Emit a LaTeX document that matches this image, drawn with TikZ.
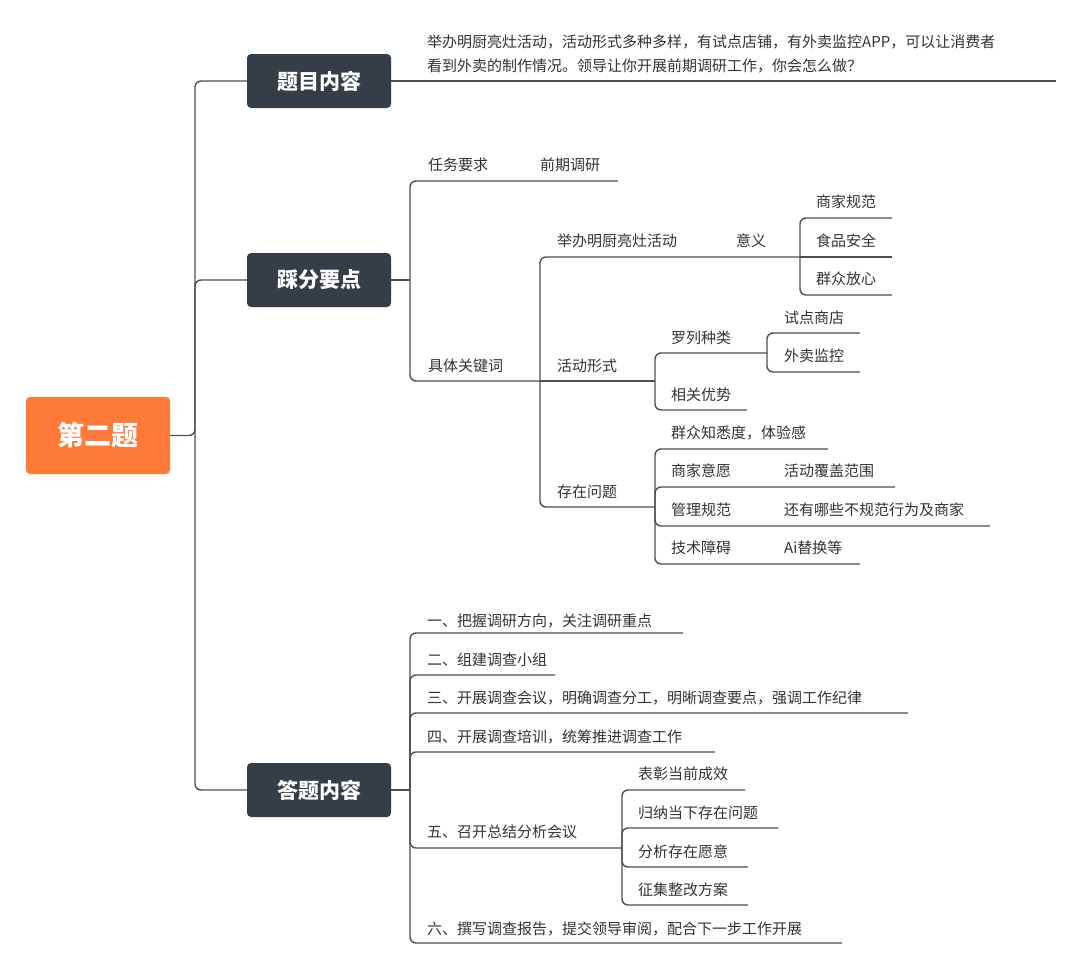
\documentclass[tikz,border=0pt]{standalone}
\usepackage{fontspec}
\setmainfont{Noto Sans CJK SC}
\begin{document}
\begin{tikzpicture}[x=1pt,y=-1pt,
  ln/.style={draw=linec,line width=1.4pt,rounded corners=6pt},
  txt/.style={anchor=west,inner sep=0pt,font=\fontsize{15}{18}\selectfont,text=textc},
  mainbox/.style={fill=boxc,rounded corners=4pt,minimum width=144pt,minimum height=54pt,text=white,font=\fontsize{21}{24}\selectfont\bfseries},
  rootbox/.style={fill=rootc,rounded corners=4pt,minimum width=144pt,minimum height=77pt,text=white,font=\fontsize{27}{30}\selectfont\bfseries}]
\definecolor{linec}{HTML}{4A5058}
\definecolor{textc}{HTML}{333333}
\definecolor{boxc}{HTML}{353E47}
\definecolor{rootc}{HTML}{FF7A37}
\useasboundingbox[fill=white] (0,0) rectangle (1080,972);
% root and main
\node[rootbox] (root) at (98,435.5) {第二题};
\node[mainbox] (m1) at (319,81) {题目内容};
\node[mainbox] (m2) at (319,280) {踩分要点};
\node[mainbox] (m3) at (319,790) {答题内容};
\draw[ln] (root.east) -- (195,435.5) |- (m1.west);
\draw[ln] (195,435.5) |- (m2.west);
\draw[ln] (195,435.5) |- (m3.west);
% m1
\draw[ln] (m1.east) -- (1056,81);
\node[txt] (q1) at (427,42) {举办明厨亮灶活动，活动形式多种多样，有试点店铺，有外卖监控APP，可以让消费者};
\node[txt] (q2) at (427,66) {看到外卖的制作情况。领导让你开展前期调研工作，你会怎么做？};
% m2
\draw[ln] (m2.east) -- (410,280);
\draw[ln] (410,280) |- (618,181);
\draw[ln] (410,280) |- (540,381);
\node[txt] (a1) at (428,165) {任务要求};
\node[txt] (a2) at (540,165) {前期调研};
\node[txt] (a3) at (428,366) {具体关键词};
% level under 具体关键词
\draw[ln] (540,381) |- (800,257);
\draw[ln] (540,381) -- (655,381);
\draw[ln] (540,381) |- (655,507);
\node[txt] (b1) at (557,241) {举办明厨亮灶活动};
\node[txt] (b2) at (736,241) {意义};
\node[txt] (b3) at (557,366) {活动形式};
\node[txt] (b4) at (557,492) {存在问题};
% 意义
\draw[ln] (800,257) |- (892,218);
\draw[ln] (800,257) -- (892,257);
\draw[ln] (800,257) |- (892,295);
\node[txt] (c1) at (816,202) {商家规范};
\node[txt] (c2) at (816,241) {食品安全};
\node[txt] (c3) at (816,279) {群众放心};
% 活动形式
\draw[ln] (655,381) |- (767,353);
\draw[ln] (655,381) |- (747,410);
\node[txt] (d1) at (671,338) {罗列种类};
\node[txt] (d2) at (671,395) {相关优势};
\draw[ln] (767,353) |- (860,333);
\draw[ln] (767,353) |- (860,372);
\node[txt] (e1) at (784,318) {试点商店};
\node[txt] (e2) at (784,356) {外卖监控};
% 存在问题
\draw[ln] (655,507) |- (828,449);
\draw[ln] (655,507) |- (895,487);
\draw[ln] (655,507) |- (990,526);
\draw[ln] (655,507) |- (860,564);
\node[txt] (f1) at (671,433) {群众知悉度，体验感};
\node[txt] (f2) at (671,471) {商家意愿};
\node[txt] (f3) at (784,471) {活动覆盖范围};
\node[txt] (f4) at (671,510) {管理规范};
\node[txt] (f5) at (784,510) {还有哪些不规范行为及商家};
\node[txt] (f6) at (671,548) {技术障碍};
\node[txt] (f7) at (784,548) {Ai替换等};
% m3
\draw[ln] (m3.east) -- (410,790);
\draw[ln] (410,790) |- (683,633);
\draw[ln] (410,790) |- (555,675);
\draw[ln] (410,790) |- (908,713);
\draw[ln] (410,790) |- (715,752);
\draw[ln] (410,790) |- (622,848);
\draw[ln] (410,790) |- (842,943);
\node[txt] (g1) at (427,621) {一、把握调研方向，关注调研重点};
\node[txt] (g2) at (427,660) {二、组建调查小组};
\node[txt] (g3) at (427,698) {三、开展调查会议，明确调查分工，明晰调查要点，强调工作纪律};
\node[txt] (g4) at (427,737) {四、开展调查培训，统筹推进调查工作};
\node[txt] (g5) at (427,832) {五、召开总结分析会议};
\node[txt] (g6) at (427,929) {六、撰写调查报告，提交领导审阅，配合下一步工作开展};
\draw[ln] (622,848) |- (745,790);
\draw[ln] (622,848) |- (778,828);
\draw[ln] (622,848) |- (748,867);
\draw[ln] (622,848) |- (748,905);
\node[txt] (h1) at (638,774) {表彰当前成效};
\node[txt] (h2) at (638,813) {归纳当下存在问题};
\node[txt] (h3) at (638,852) {分析存在愿意};
\node[txt] (h4) at (638,890) {征集整改方案};
\end{tikzpicture}
\end{document}
